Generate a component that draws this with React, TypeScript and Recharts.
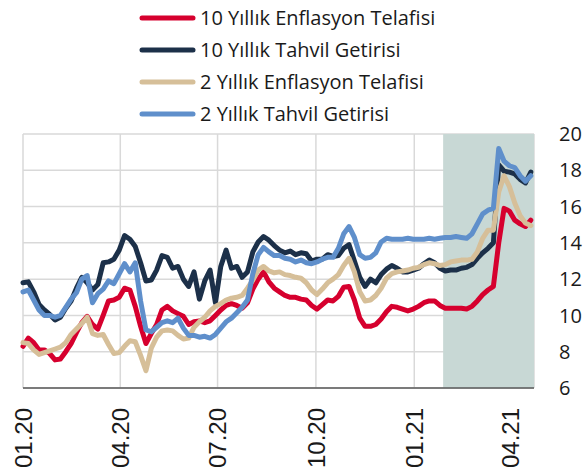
import React from 'react';
import { LineChart, Line, XAxis, YAxis, CartesianGrid, ReferenceArea } from 'recharts';

const dayOffsets = [
  0, 5, 10, 15, 20, 25, 30, 35, 40, 45, 50, 55, 60, 65, 70, 75, 80, 85, 90, 95,
  100, 105, 110, 115, 120, 125, 130, 135, 140, 145, 150, 155, 160, 165, 170, 175, 180, 185, 190, 195,
  200, 205, 210, 215, 220, 225, 230, 235, 240, 245, 250, 255, 260, 265, 270, 275, 280, 285, 290, 295,
  300, 305, 310, 315, 320, 325, 330, 335, 340, 345, 350, 355, 360, 365, 370, 375, 380, 385, 390, 395,
  400, 405, 410, 415, 420, 425, 430, 435, 440, 445, 450, 455, 460, 465, 470, 475,
];

const breakeven10 = [
  8.3, 8.75, 8.5, 8.1, 8.1, 7.9, 7.55, 7.6, 8.0, 8.45,
  9.05, 9.6, 9.95, 9.5, 9.25, 10.0, 10.8, 10.85, 11.0, 11.5,
  11.4, 10.5, 9.4, 8.45, 9.0, 9.5, 10.3, 10.5, 10.25, 10.1,
  9.95, 9.5, 9.65, 9.7, 9.6, 9.7, 10.0, 10.3, 10.55, 10.65,
  10.55, 10.4, 10.7, 11.45, 12.0, 12.4, 11.85, 11.5, 11.3, 11.1,
  11.0, 11.0, 10.9, 10.85, 10.55, 10.35, 10.6, 10.85, 10.8, 11.05,
  11.55, 11.6, 10.85, 9.85, 9.4, 9.4, 9.5, 9.8, 10.2, 10.5,
  10.45, 10.35, 10.25, 10.35, 10.5, 10.7, 10.8, 10.8, 10.55, 10.4,
  10.4, 10.4, 10.4, 10.35, 10.5, 10.8, 11.15, 11.4, 11.6, 14.0,
  15.9, 15.75, 15.25, 15.05, 14.9, 15.25,
];

const yield10 = [
  11.8, 11.85, 11.3, 10.6, 10.3, 10.05, 9.75, 9.9, 10.4, 10.8,
  11.5, 12.1, 11.8, 11.4, 11.7, 12.9, 12.95, 13.1, 13.6, 14.4,
  14.2, 13.8, 12.9, 11.9, 11.95, 12.5, 13.3, 13.2, 12.6, 12.7,
  12.0, 11.6, 12.4, 10.9, 11.9, 12.5, 10.7, 12.7, 13.6, 12.6,
  12.7, 12.1, 12.4, 13.5, 14.05, 14.35, 14.15, 13.85, 13.6, 13.45,
  13.55, 13.35, 13.45, 13.4, 13.0, 13.1, 13.1, 13.35, 13.25, 13.3,
  13.7, 13.9, 13.0, 12.1, 11.6, 12.0, 11.8, 12.25, 12.55, 12.75,
  12.6, 12.4, 12.4, 12.5, 12.6, 12.85, 13.05, 12.9, 12.6, 12.45,
  12.5, 12.5, 12.6, 12.65, 12.8, 13.15, 13.45, 13.7, 14.0, 18.3,
  17.95, 17.9, 17.8, 17.5, 17.3, 17.9,
];

const breakeven2 = [
  8.5, 8.45, 8.1, 7.85, 7.95, 8.05, 8.15, 8.25, 8.5, 8.95,
  9.25, 9.55, 9.9, 9.0, 8.9, 8.95, 8.4, 7.9, 7.95, 8.3,
  8.6, 8.55, 7.8, 6.95, 8.2, 8.8, 9.15, 9.2, 9.15, 8.9,
  8.7, 8.75, 9.35, 9.65, 9.9, 10.25, 10.5, 10.65, 10.85, 10.95,
  11.0, 11.1, 11.5, 11.95, 12.5, 12.7, 12.45, 12.35, 12.4, 12.25,
  12.2, 12.1, 12.05, 11.8, 11.4, 11.15, 11.45, 11.8, 12.0, 12.25,
  12.75, 13.15, 12.4, 11.3, 10.8, 10.85, 11.1, 11.5, 12.05, 12.3,
  12.4, 12.45, 12.5, 12.6, 12.65, 12.8, 12.9, 12.85, 12.75, 12.8,
  12.95, 13.0, 13.05, 13.05, 13.1, 13.5, 14.25, 14.7, 14.7, 16.8,
  17.7, 17.1, 16.2, 15.5, 15.1, 14.95,
];

const yield2 = [
  11.3, 11.4, 10.85, 10.3, 10.0, 10.0, 9.9, 10.0, 10.45, 10.9,
  11.25, 12.0, 12.2, 10.7, 11.2, 11.45, 11.9, 11.75, 12.3, 12.85,
  12.4, 12.9, 10.8, 9.2, 9.1, 9.35, 9.6, 9.7, 9.6, 9.85,
  9.3, 8.9, 8.9, 8.8, 8.85, 8.75, 8.95, 9.3, 9.65, 9.85,
  10.15, 10.45, 10.85, 12.3, 13.35, 13.75, 13.5, 13.3, 13.3, 13.15,
  13.1, 12.95, 13.05, 12.9, 12.85, 12.95, 13.1, 13.2, 13.2, 13.7,
  14.5, 14.9, 14.3, 13.35, 13.15, 13.2, 13.45, 14.05, 14.25, 14.2,
  14.2, 14.2, 14.25, 14.2, 14.2, 14.2, 14.25, 14.2, 14.25, 14.3,
  14.3, 14.35, 14.3, 14.25, 14.5, 15.05, 15.6, 15.8, 15.9, 19.2,
  18.5, 18.25, 18.15, 17.7, 17.4, 17.7,
];

const tickDays = [0, 91, 182, 274, 366, 456];
const tickLabels = ['01.20', '04.20', '07.20', '10.20', '01.21', '04.21'];
const yTicks = [6, 8, 10, 12, 14, 16, 18, 20];
const shadeStart = 393;
const domainEnd = 478;

const series = [
  { key: 'r', name: '10 Yıllık Enflasyon Telafisi', color: '#d6002e', values: breakeven10 },
  { key: 'n', name: '10 Yıllık Tahvil Getirisi', color: '#1c3049', values: yield10 },
  { key: 't', name: '2 Yıllık Enflasyon Telafisi', color: '#d6bf99', values: breakeven2 },
  { key: 'b', name: '2 Yıllık Tahvil Getirisi', color: '#5f8fcb', values: yield2 },
];

const data = dayOffsets.map((d, i) => {
  const row: Record<string, number> = { day: d };
  series.forEach((s) => {
    row[s.key] = s.values[i];
  });
  return row;
});

const XTick = (props: any) => {
  const { x, y, payload } = props;
  const idx = tickDays.indexOf(payload.value);
  const label = idx >= 0 ? tickLabels[idx] : String(payload.value);
  return (
    <text
      transform={`translate(${x},${y + 20}) rotate(-90)`}
      textAnchor="end"
      dy="0.36em"
      fontFamily="'Liberation Sans', Arial, sans-serif"
      fontSize={24}
      fill="#1a1a1a"
    >
      {label}
    </text>
  );
};

const YTick = (props: any) => {
  const { x, y, payload } = props;
  return (
    <text
      x={x + 25}
      y={y}
      dy="0.36em"
      textAnchor="start"
      fontFamily="'Open Sans', sans-serif"
      fontSize={20}
      fill="#1a1a1a"
    >
      {payload.value}
    </text>
  );
};

export default function App() {
  return (
    <div style={{ position: 'absolute', left: 0, top: 0, width: 585, height: 473, background: '#fff' }}>
      <LineChart
        width={585}
        height={473}
        data={data}
        margin={{ top: 134, right: 0, left: 23, bottom: 0 }}
      >
        <CartesianGrid stroke="#d9d9d9" strokeWidth={1.5} ticks={undefined} />
        <ReferenceArea
          x1={shadeStart}
          x2={domainEnd}
          y1={6}
          y2={20}
          fill="#c8d8d5"
          fillOpacity={1}
          stroke="none"
          ifOverflow="hidden"
        />
        <XAxis
          type="number"
          dataKey="day"
          domain={[0, domainEnd]}
          ticks={tickDays}
          interval={0}
          height={85}
          tickLine={false}
          tickSize={0}
          tickMargin={0}
          axisLine={{ stroke: '#595959', strokeWidth: 1.5 }}
          tick={<XTick />}
        />
        <YAxis
          orientation="right"
          domain={[6, 20]}
          ticks={yTicks}
          interval={0}
          width={51}
          axisLine={false}
          tickLine={false}
          tickSize={0}
          tickMargin={0}
          tick={<YTick />}
        />
        {series.map((s) => (
          <Line
            key={s.key}
            type="linear"
            dataKey={s.key}
            name={s.name}
            stroke={s.color}
            strokeWidth={5}
            strokeLinejoin="round"
            strokeLinecap="round"
            dot={false}
            activeDot={false}
            isAnimationActive={false}
          />
        ))}
      </LineChart>
      <svg
        width={585}
        height={134}
        style={{ position: 'absolute', left: 0, top: 0, pointerEvents: 'none' }}
      >
        {series.map((s, i) => {
          const cy = 18 + i * 32;
          return (
            <g key={s.key}>
              <line x1={142} x2={193} y1={cy} y2={cy} stroke={s.color} strokeWidth={5} strokeLinecap="round" />
              <text
                x={200}
                y={cy}
                dy="0.36em"
                fontFamily="'Open Sans', sans-serif"
                fontSize={20}
                fill="#1a1a1a"
              >
                {s.name}
              </text>
            </g>
          );
        })}
      </svg>
    </div>
  );
}
